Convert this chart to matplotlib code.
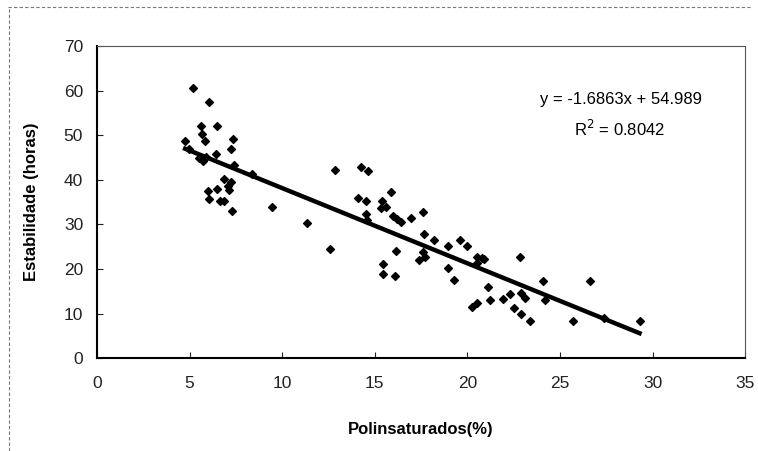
import matplotlib.pyplot as plt
import matplotlib.lines as mlines
import numpy as np
from matplotlib import font_manager

names = {f.name for f in font_manager.fontManager.ttflist}
fam = 'Liberation Sans Narrow' if 'Liberation Sans Narrow' in names else 'Liberation Sans'
plt.rcParams['font.family'] = [fam, 'DejaVu Sans']

# data
poli = [5.16, 6.05, 5.64, 6.47, 5.66, 4.76, 5.82, 7.37, 7.22, 4.97, 6.45, 5.5, 5.7, 5.9,
        7.39, 6.86, 7.22, 7.1, 7.15, 5.97, 6.47, 6.05, 6.65, 6.86, 7.31, 9.47, 8.39,
        12.83, 14.23, 14.63, 11.36, 12.58, 14.10, 14.53, 14.53, 14.59, 15.40, 15.88,
        15.36, 15.63, 16.0, 16.2, 16.4, 16.93, 17.59, 17.68, 18.18, 16.12, 15.43, 15.43,
        16.10, 17.4, 17.7, 17.6, 18.97, 19.59, 19.98, 18.97, 19.27, 20.5, 20.8, 20.5,
        22.86, 21.1, 21.24, 21.92, 22.32, 20.25, 20.5, 22.5, 22.9, 22.9, 23.1, 23.36,
        20.88, 24.06, 24.2, 25.7, 26.6, 27.4, 29.3]
estab = [60.5, 57.5, 52.1, 52.1, 50.2, 48.7, 48.7, 49.1, 47.0, 47.0, 45.8, 44.8, 44.2, 45.2,
         43.3, 40.1, 39.6, 38.5, 37.7, 37.5, 37.9, 35.7, 35.2, 35.2, 33.0, 33.9, 41.4,
         42.2, 42.9, 42.0, 30.4, 24.5, 35.8, 35.3, 32.3, 31.0, 35.3, 37.2,
         33.6, 33.8, 31.9, 31.3, 30.6, 31.5, 32.7, 27.8, 26.5, 24.0, 21.1, 18.8,
         18.4, 22.1, 22.6, 23.9, 25.1, 26.5, 25.2, 20.1, 17.5, 22.6, 22.4, 21.4,
         22.7, 15.9, 13.0, 13.2, 14.4, 11.5, 12.3, 11.3, 10.0, 14.7, 13.4, 8.4,
         22.2, 17.3, 13.0, 8.3, 17.3, 9.1, 8.3]
slope = -1.6863
intercept = 54.989
r2 = 0.8042

fig = plt.figure(figsize=(7.58, 4.51), dpi=100)
ax = fig.add_axes([0.128, 0.206, 0.855, 0.692])

ax.scatter(poli, estab, marker='D', s=16, color='black', zorder=3)
xf = np.array([min(poli), max(poli)])
ax.plot(xf, slope * xf + intercept, color='black', lw=3.2, zorder=2)

ax.set_xlim(0, 35)
ax.set_ylim(0, 70)
ax.set_xticks(range(0, 36, 5))
ax.set_yticks(range(0, 71, 10))
ax.tick_params(direction='in', length=4, labelsize=12.5, colors='#222222')
ax.tick_params(axis='x', pad=13)
ax.tick_params(axis='y', pad=10)
for lab in ax.get_xticklabels() + ax.get_yticklabels():
    lab.set_fontstretch('condensed')

ax.spines['top'].set_linestyle((0, (2, 1)))
ax.spines['right'].set_linestyle((0, (2, 1)))
ax.spines['top'].set_color('#555555')
ax.spines['right'].set_color('#555555')
ax.spines['left'].set_linewidth(1.5)
ax.spines['bottom'].set_linewidth(1.5)

ax.set_xlabel('Polinsaturados(%)', fontsize=12, fontweight='bold', labelpad=22)
ax.set_ylabel('Estabilidade (horas)', fontsize=12, fontweight='bold', labelpad=18)

ax.text(28.3, 58, 'y = -1.6863x + 54.989', fontsize=12, ha='center', va='center')
ax.text(28.2, 51.5, 'R$^2$ = 0.8042', fontsize=12, ha='center', va='center')

# dashed outer border of the scanned chart area
fig.add_artist(mlines.Line2D([0.01, 0.99], [0.985, 0.985], transform=fig.transFigure,
                             color='#777777', lw=0.8, ls=(0, (3, 2))))
fig.add_artist(mlines.Line2D([0.012, 0.012], [0.0, 0.985], transform=fig.transFigure,
                             color='#777777', lw=0.8, ls=(0, (3, 2))))

fig.savefig('out.png', dpi=100)
